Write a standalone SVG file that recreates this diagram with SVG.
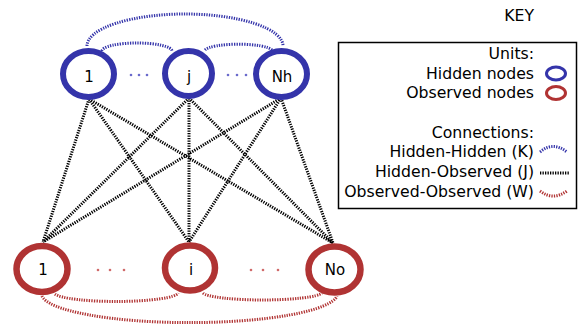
<svg xmlns="http://www.w3.org/2000/svg" width="580" height="327" viewBox="0 0 580 327">
<style>
text{font-family:"DejaVu Sans",sans-serif;font-size:15px;fill:#000}
.lbl{text-anchor:middle}
.key{text-anchor:end;font-size:15.7px}
.hid{fill:#fff;stroke:#3434aa;stroke-width:6}
.obs{fill:#fff;stroke:#b03333;stroke-width:6.5}
.kk{fill:none;stroke:#3434aa;stroke-width:3;stroke-dasharray:1.3 1.2}
.jj{fill:none;stroke:#000;stroke-width:3;stroke-dasharray:1.3 1.2}
.ww{fill:none;stroke:#b03333;stroke-width:3;stroke-dasharray:1.3 1.2}
.dotb{fill:#6a6acc}
.dotr{fill:#d06a6a}
</style>
<rect width="580" height="327" fill="#fff"/>
<g id="connectors">
<path class="kk" d="M87,46 A98,32 0 0 1 283,46"/>
<path class="kk" d="M102,51 A35,8 0 0 1 172,51"/>
<path class="kk" d="M205,50 A34,7 0 0 1 272,50"/>
<path class="ww" d="M55,294 A62,9 0 0 0 178,293"/>
<path class="ww" d="M203,293 A60,8 0 0 0 322,293"/>
<path class="ww" d="M42,296 A148,29 0 0 0 337,296"/>
<path class="jj" d="M89,99 L43,242 M89,99 L189,242 M89,99 L333,243 M189,98 L43,242 M189,98 L189,242 M189,98 L333,243 M281,98 L43,242 M281,98 L189,242 M281,98 L333,243"/>
</g>
<g id="hidden-1"><ellipse class="hid" cx="88.5" cy="74" rx="25.5" ry="23"/><text class="lbl" x="89" y="81.5">1</text></g>
<g id="hidden-j"><ellipse class="hid" cx="188.5" cy="73.5" rx="23.5" ry="22.5"/><text class="lbl" x="189" y="81.5">j</text></g>
<g id="hidden-Nh"><ellipse class="hid" cx="281.5" cy="74" rx="25.5" ry="23"/><text class="lbl" x="282" y="81.5">Nh</text></g>
<g id="hidden-dots">
<circle class="dotb" cx="131" cy="75" r="1.3"/><circle class="dotb" cx="139" cy="75" r="1.3"/><circle class="dotb" cx="147" cy="75" r="1.3"/>
<circle class="dotb" cx="228" cy="75" r="1.3"/><circle class="dotb" cx="237" cy="75" r="1.3"/><circle class="dotb" cx="246" cy="75" r="1.3"/>
</g>
<g id="observed-1"><ellipse class="obs" cx="42" cy="269" rx="25.5" ry="23"/><text class="lbl" x="43" y="275">1</text></g>
<g id="observed-i"><ellipse class="obs" cx="190" cy="268" rx="25" ry="22.5"/><text class="lbl" x="191" y="275">i</text></g>
<g id="observed-No"><ellipse class="obs" cx="334.5" cy="269.5" rx="26" ry="23"/><text class="lbl" x="335" y="274.5">No</text></g>
<g id="observed-dots">
<circle class="dotr" cx="98" cy="270" r="1.3"/><circle class="dotr" cx="110" cy="270" r="1.3"/><circle class="dotr" cx="124" cy="270" r="1.3"/>
<circle class="dotr" cx="251" cy="270" r="1.3"/><circle class="dotr" cx="263" cy="270" r="1.3"/><circle class="dotr" cx="278" cy="270" r="1.3"/>
</g>
<g id="key">
<text class="key" x="534" y="21">KEY</text>
<rect x="338.5" y="42.5" width="238" height="166" fill="none" stroke="#000" stroke-width="1.5"/>
<text class="key" x="534" y="59">Units:</text>
<text class="key" x="534" y="79">Hidden nodes</text>
<text class="key" x="534" y="98">Observed nodes</text>
<text class="key" x="534" y="138">Connections:</text>
<text class="key" x="534" y="157">Hidden-Hidden (K)</text>
<text class="key" x="534" y="177">Hidden-Observed (J)</text>
<text class="key" x="534" y="197">Observed-Observed (W)</text>
<ellipse cx="556" cy="73.5" rx="9.5" ry="6.5" fill="none" stroke="#3434aa" stroke-width="3"/>
<ellipse cx="556" cy="93" rx="9.5" ry="6.5" fill="none" stroke="#b03333" stroke-width="3"/>
<path class="kk" d="M540,152 Q553,141 567,152"/>
<path class="jj" d="M540,173 H570"/>
<path class="ww" d="M540,191 Q553,201 567,191"/>
</g>
</svg>
